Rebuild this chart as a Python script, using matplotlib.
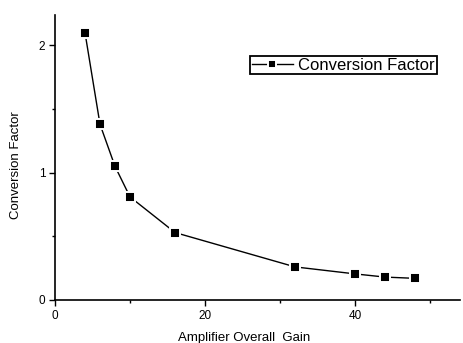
import matplotlib
matplotlib.use('Agg')
import matplotlib.pyplot as plt
from matplotlib.ticker import MultipleLocator

# data
gain = [4, 6, 8, 10, 16, 32, 40, 44, 48]
factor = [2.10, 1.38, 1.05, 0.81, 0.53, 0.26, 0.205, 0.18, 0.17]

plt.rcParams['font.family'] = ['Liberation Sans', 'DejaVu Sans']

fig = plt.figure(figsize=(4.63, 3.43), dpi=100)
ax = fig.add_axes([0.1188, 0.1254, 0.875, 0.831])

# white edge on the markers leaves the small gaps seen around each point
ax.plot(gain, factor, color='black', lw=1.0, marker='s', ms=7.5,
        mfc='black', mec='white', mew=1.4, label='Conversion Factor')

ax.set_xlim(0, 54)
ax.set_ylim(0, 2.24)
ax.xaxis.set_major_locator(MultipleLocator(20))
ax.xaxis.set_minor_locator(MultipleLocator(10))
ax.yaxis.set_major_locator(MultipleLocator(1))
ax.yaxis.set_minor_locator(MultipleLocator(0.5))
ax.tick_params(which='major', direction='out', length=4, width=1, labelsize=8.5, pad=3)
ax.tick_params(which='minor', direction='out', length=2.5, width=1)

for s in ['top', 'right']:
    ax.spines[s].set_visible(False)
for s in ['left', 'bottom']:
    ax.spines[s].set_linewidth(1.2)

ax.set_xlabel('Amplifier Overall  Gain', fontsize=9.5)
ax.set_ylabel('Conversion Factor', fontsize=9.5)
ax.xaxis.set_label_coords(0.468, -0.112)
ax.yaxis.set_label_coords(-0.081, 0.474)

leg = ax.legend(loc='upper left', bbox_to_anchor=(250 / 463, 1 - 56 / 343),
                bbox_transform=fig.transFigure, fontsize=12, fancybox=False,
                framealpha=1, edgecolor='black', handlelength=2.5,
                borderpad=0.1, handletextpad=0.3, borderaxespad=0, markerscale=0.8)
leg.get_frame().set_linewidth(1.3)

fig.savefig('out.png', dpi=100)
